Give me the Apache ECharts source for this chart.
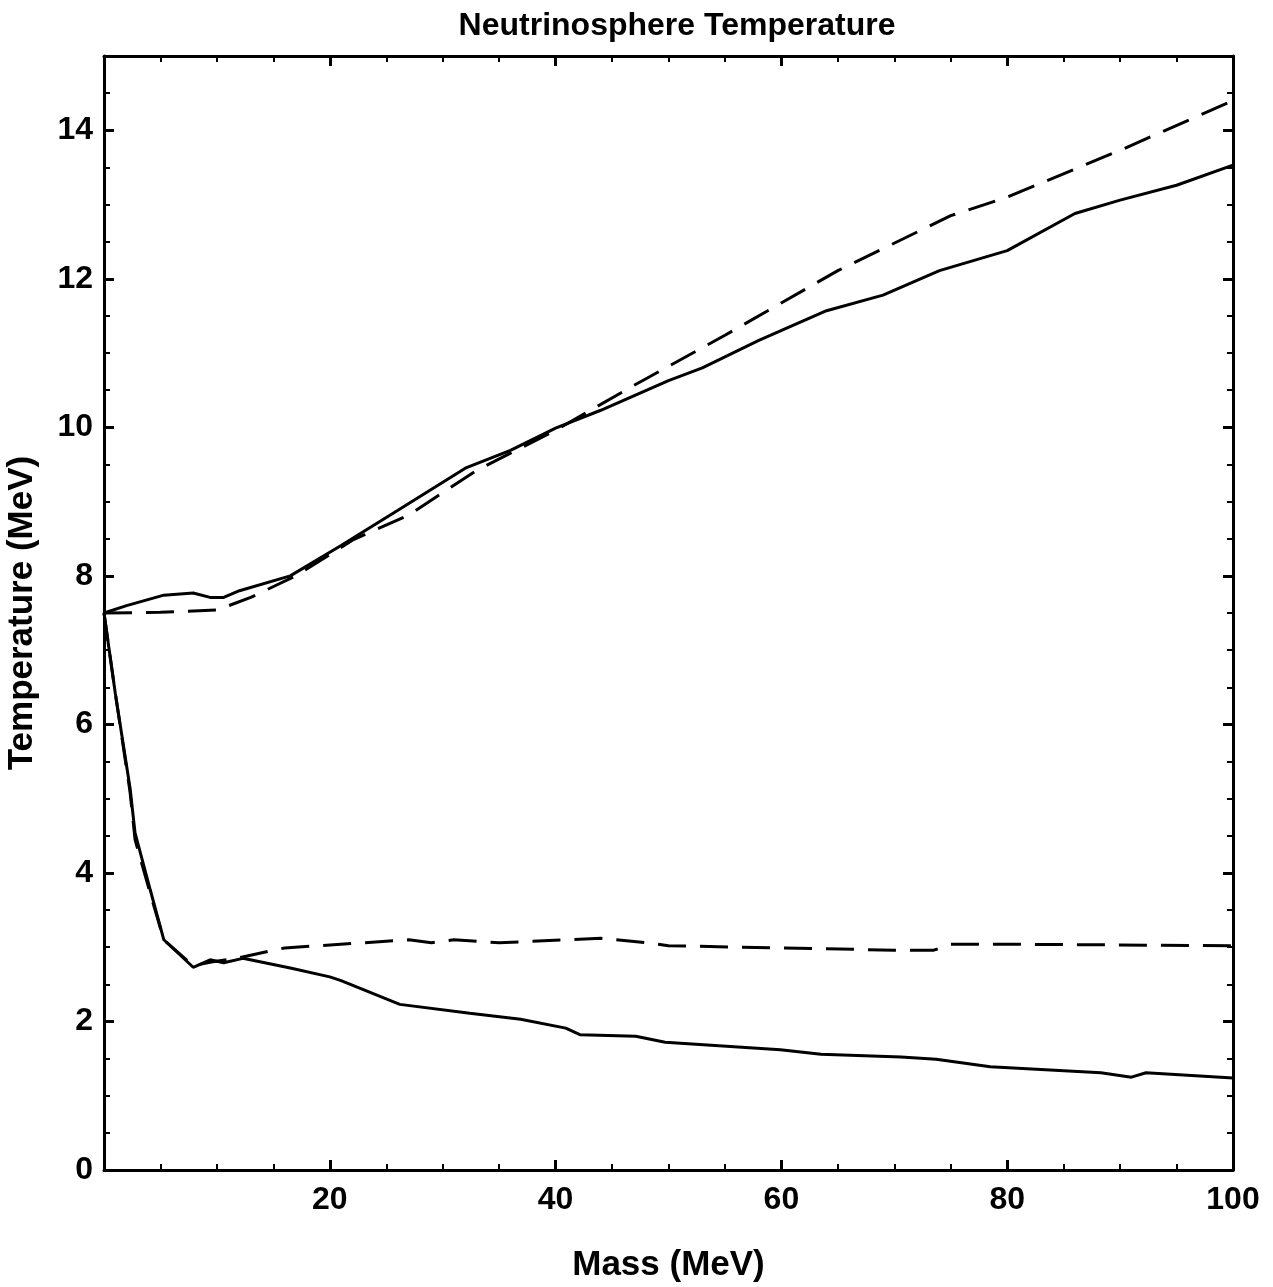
<!DOCTYPE html>
<html>
<head>
<meta charset="utf-8">
<script src="https://cdn.jsdelivr.net/npm/echarts@6/dist/echarts.min.js"></script>
<style>
  html, body { margin: 0; padding: 0; background: #fff; }
  #chart { width: 1273px; height: 1287px; }
</style>
</head>
<body>
<div id="chart"></div>
<script>
// upper solid curve
var massUpSolid = [0, 2, 5.3, 7.9, 9.4, 10.6, 12, 16.5, 21, 26, 32, 36, 40, 44, 50, 53, 58, 64, 69, 74, 80, 86, 90, 95, 100];
var tempUpSolid = [7.5, 7.6, 7.74, 7.77, 7.71, 7.71, 7.8, 8.0, 8.41, 8.88, 9.45, 9.69, 9.99, 10.23, 10.63, 10.8, 11.17, 11.57, 11.78, 12.11, 12.38, 12.88, 13.06, 13.26, 13.53];
// upper dashed curve
var massUpDash = [0, 5, 10, 13, 17, 22, 27, 33, 40, 47, 55, 65, 75, 80, 90, 100];
var tempUpDash = [7.5, 7.51, 7.54, 7.71, 8.0, 8.48, 8.82, 9.42, 9.96, 10.57, 11.24, 12.11, 12.85, 13.1, 13.73, 14.4];
// lower solid curve
var massLowSolid = [0, 1.0, 2.3, 2.75, 4.1, 5.3, 7.9, 9.4, 10.6, 12.3, 16.5, 20, 21, 26.2, 32.4, 36.9, 40.9, 42.2, 47.1, 49.7, 59.9, 63.5, 70.6, 73.7, 78.5, 88.3, 91, 92.3, 100];
var tempLowSolid = [7.5, 6.42, 5.15, 4.54, 3.77, 3.1, 2.73, 2.83, 2.79, 2.85, 2.72, 2.6, 2.55, 2.23, 2.11, 2.03, 1.91, 1.82, 1.8, 1.72, 1.62, 1.56, 1.52, 1.49, 1.39, 1.31, 1.25, 1.31, 1.24];
// lower dashed curve
var massLowDash = [0, 1.0, 2.3, 2.75, 4.1, 5.3, 7.9, 9.5, 12, 16, 27, 29, 31, 35, 44, 48, 50, 60, 70, 73.5, 75, 80, 100];
var tempLowDash = [7.5, 6.42, 5.1, 4.45, 3.72, 3.1, 2.75, 2.8, 2.86, 2.99, 3.1, 3.06, 3.1, 3.06, 3.12, 3.06, 3.02, 2.99, 2.96, 2.96, 3.04, 3.04, 3.02];

function zip(xs, ys) {
  return xs.map(function (x, i) { return [x, ys[i]]; });
}

var font = 'Liberation Sans, Arial, sans-serif';
var chart = echarts.init(document.getElementById('chart'));

var xBase = {
  type: 'value', min: 0, max: 100, interval: 20,
  axisLine: { show: true, onZero: false, lineStyle: { color: '#000', width: 3 } },
  axisTick: { show: true, inside: true, length: 10, lineStyle: { color: '#000', width: 3 } },
  minorTick: { show: true, splitNumber: 4, length: 6, lineStyle: { color: '#000', width: 2 } },
  splitLine: { show: false }
};
var yBase = {
  type: 'value', min: 0, max: 15, interval: 2,
  axisLine: { show: true, onZero: false, lineStyle: { color: '#000', width: 3 } },
  axisTick: { show: true, inside: true, length: 10, lineStyle: { color: '#000', width: 3 } },
  minorTick: { show: true, splitNumber: 4, length: 6, lineStyle: { color: '#000', width: 2 } },
  splitLine: { show: false }
};

var option = {
  backgroundColor: '#fff',
  animation: false,
  title: {
    text: 'Neutrinosphere Temperature',
    left: 672, top: 5, textAlign: 'center',
    textStyle: { fontFamily: font, fontWeight: 'bold', fontSize: 32, color: '#000' }
  },
  grid: { left: 104, right: 40, top: 56, bottom: 117, outerBoundsMode: 'none', containLabel: false },
  xAxis: [
    Object.assign({}, xBase, {
      position: 'bottom',
      name: 'Mass (MeV)', nameLocation: 'middle', nameGap: 78,
      nameTextStyle: { fontFamily: font, fontWeight: 'bold', fontSize: 35, color: '#000' },
      axisLabel: {
        margin: 14, fontFamily: font, fontWeight: 'bold', fontSize: 32, color: '#000',
        formatter: function (v) { return v === 0 ? '' : String(v); }
      }
    }),
    Object.assign({}, xBase, { position: 'top', axisLabel: { show: false } })
  ],
  yAxis: [
    Object.assign({}, yBase, {
      position: 'left',
      name: 'Temperature (MeV)', nameLocation: 'middle', nameGap: 64,
      nameTextStyle: { fontFamily: font, fontWeight: 'bold', fontSize: 35, color: '#000' },
      axisLabel: {
        margin: 11, fontFamily: font, fontWeight: 'bold', fontSize: 32, color: '#000',
        formatter: function (v) { return v % 2 === 0 ? String(v) : ''; }
      }
    }),
    Object.assign({}, yBase, { position: 'right', axisLabel: { show: false } })
  ],
  series: [
    { type: 'line', data: zip(massUpSolid, tempUpSolid), symbol: 'none', smooth: false,
      lineStyle: { color: '#000', width: 3 } },
    { type: 'line', data: zip(massUpDash, tempUpDash), symbol: 'none',
      lineStyle: { color: '#000', width: 3, type: [28, 14] } },
    { type: 'line', data: zip(massLowSolid, tempLowSolid), symbol: 'none',
      lineStyle: { color: '#000', width: 3 } },
    { type: 'line', data: zip(massLowDash, tempLowDash), symbol: 'none',
      lineStyle: { color: '#000', width: 3, type: [28, 14] } }
  ]
};

chart.setOption(option);
</script>
</body>
</html>
